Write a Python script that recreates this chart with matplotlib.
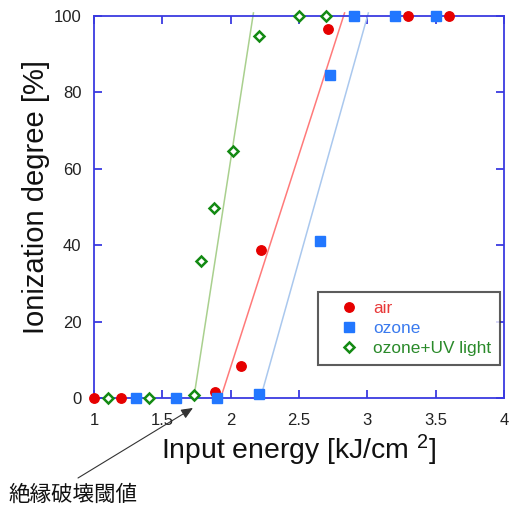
import matplotlib
matplotlib.use("Agg")
import matplotlib.pyplot as plt

plt.rcParams['font.family'] = ['Liberation Sans', 'DejaVu Sans']
plt.rcParams['mathtext.default'] = 'regular'

# Ionization degree vs input energy
air_x = [1.0, 1.2, 1.885, 2.075, 2.22, 2.71, 3.3, 3.6]
air_y = [0, 0, 1.5, 8.3, 38.7, 96.6, 100, 100]

ozone_x = [1.31, 1.6, 1.9, 2.21, 2.65, 2.73, 2.9, 3.2, 3.5]
ozone_y = [0, 0, 0, 1, 41, 84.6, 100, 100, 100]

uv_x = [1.1, 1.4, 1.73, 1.78, 1.88, 2.02, 2.21, 2.5, 2.7]
uv_y = [0, 0, 0.8, 35.9, 49.7, 64.7, 94.8, 100, 100]

# linear fits: energy at 0 % and at 100 % ionization
fit_start = [1.927, 2.218, 1.730]
fit_end = [2.826, 3.001, 2.163]
fit_top = 100.8

labels = ['air', 'ozone', 'ozone+UV light']
point_colors = ['#e60000', '#2277ff', '#138a13']
text_colors = ['#e83a3a', '#3a7aee', '#2a8a2a']
fit_colors = ['#ff7a7a', '#aac8ee', '#a9d08e']
axis_color = '#3a3ae0'

fig = plt.figure(figsize=(5.09, 5.08), dpi=100)
ax = fig.add_axes([0.1847, 0.2165, 0.8055, 0.752])

# fit lines first so the points sit on top
for x0, x1, c in zip(fit_start, fit_end, fit_colors):
    x_top = x0 + (x1 - x0) * fit_top / 100
    ax.plot([x0, x_top], [0, fit_top], color=c, lw=1.1, clip_on=False, zorder=2)

ax.plot(air_x, air_y, 'o', ms=6.8, color=point_colors[0], mec=point_colors[0],
        label=labels[0], clip_on=False, zorder=5)
ax.plot(ozone_x, ozone_y, 's', ms=7.2, color=point_colors[1], mec=point_colors[1],
        label=labels[1], clip_on=False, zorder=5)
ax.plot(uv_x, uv_y, 'D', ms=5.4, mfc='white', mec=point_colors[2], mew=1.8,
        label=labels[2], clip_on=False, zorder=5)

ax.set_xlim(1, 4)
ax.set_ylim(0, 100)
ax.set_xticks([1, 1.5, 2, 2.5, 3, 3.5, 4])
ax.set_xticklabels(['1', '1.5', '2', '2.5', '3', '3.5', '4'])
ax.set_yticks([0, 20, 40, 60, 80, 100])

for s in ax.spines.values():
    s.set_color(axis_color)
    s.set_linewidth(1.3)
ax.tick_params(direction='in', length=6, width=1.3, color=axis_color,
               top=True, right=True, labelsize=12, labelcolor='#222222')
ax.tick_params(axis='x', pad=11)
ax.tick_params(axis='y', pad=9)

ax.set_xlabel('Input energy [kJ/cm $^{2}$]', fontsize=20.4, color='#111111')
ax.set_ylabel('Ionization degree [%]', fontsize=21, color='#111111')
ax.xaxis.set_label_coords(0.5, -0.136)
ax.yaxis.set_label_coords(-0.1415, 0.526)
ax.xaxis.label.set_va('center')
ax.yaxis.label.set_va('center')

leg = ax.legend(loc='upper left', bbox_to_anchor=(0.546, 0.2775), frameon=True,
                fancybox=False, fontsize=12.4, handlelength=2.65, handletextpad=0.05,
                borderpad=0.5, labelspacing=0.3, borderaxespad=0)
leg.get_frame().set_edgecolor('#333333')
leg.get_frame().set_linewidth(1.5)
for t, c in zip(leg.get_texts(), text_colors):
    t.set_color(c)

# threshold annotation below the axis
ax.annotate('', xy=(1.724, -2.6), xycoords='data',
            xytext=(78 / 509, 30 / 508), textcoords='figure fraction',
            arrowprops=dict(arrowstyle='-|>,head_length=0.7,head_width=0.3',
                            color='#333333', lw=0.8, shrinkA=0, shrinkB=0),
            annotation_clip=False)
fig.text(8 / 509, 13 / 508, '絶縁破壊閾値', fontsize=15.5, va='center', ha='left',
         family=['Noto Sans CJK JP', 'DejaVu Sans'], color='#111111')

fig.savefig('out.png', dpi=100)
